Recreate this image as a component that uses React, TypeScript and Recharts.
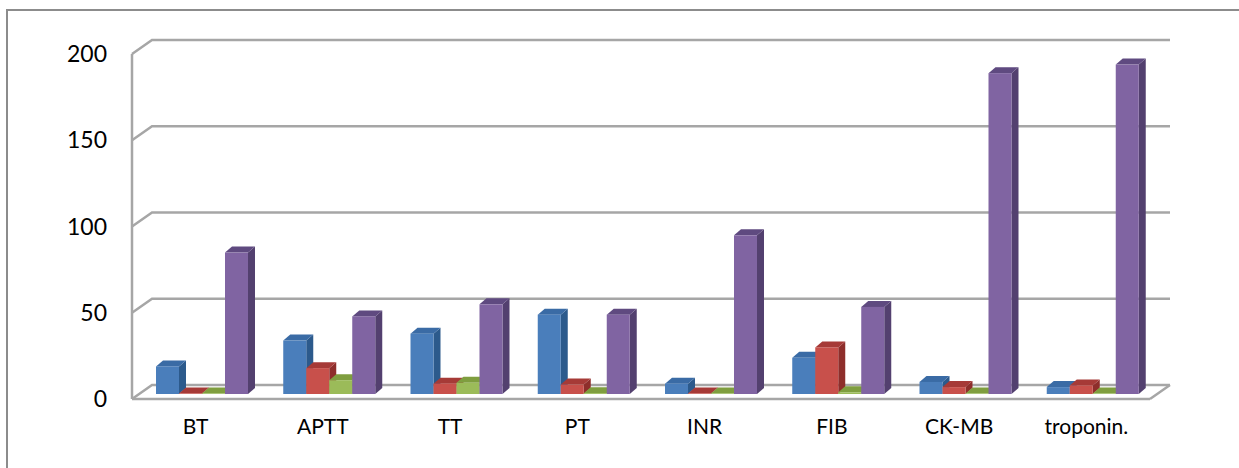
import { Bar, BarChart, CartesianGrid, XAxis, YAxis } from "recharts";

const categories = ["BT", "APTT", "TT", "PT", "INR", "FIB", "CK-MB", "troponin."];
const blueValues = [16, 31, 35, 46, 6, 21, 7, 4];
const redValues = [0.3, 15, 6, 5.5, 0.3, 27, 4, 5];
const greenValues = [0.3, 8, 6.5, 0.5, 0.3, 1, 0.3, 0.3];
const purpleValues = [82, 45, 52, 46, 92, 50.5, 186, 191];
const yTicks = [0, 50, 100, 150, 200];

const data = categories.map((name, i) => ({
  name,
  blue: blueValues[i],
  red: redValues[i],
  green: greenValues[i],
  purple: purpleValues[i],
}));

const FONT = "Lato, sans-serif";
const GRID = "#a6a6a6";
const WALL_DX = 20;
const WALL_DY = 14;

// bars stand in the middle of the floor, not on its front edge
const BAR_DX = 7;
const BAR_DY = 5;
const DEPTH_X = 7;
const DEPTH_Y = 6;

// front colour, top face, side face
const faces = (top: string, side: string) => (props: any) => {
  const { x, y, width, height, fill } = props;
  const l = x + BAR_DX;
  const r = l + width;
  const t = y - BAR_DY;
  const b = t + height;
  return (
    <g>
      <polygon
        points={`${r},${t} ${r + DEPTH_X},${t - DEPTH_Y} ${r + DEPTH_X},${b - DEPTH_Y} ${r},${b}`}
        fill={side}
      />
      <polygon
        points={`${l},${t} ${l + DEPTH_X},${t - DEPTH_Y} ${r + DEPTH_X},${t - DEPTH_Y} ${r},${t}`}
        fill={top}
      />
      <rect x={l} y={t} width={width} height={height} fill={fill} />
    </g>
  );
};

// each grid line runs up the side wall and along the back wall
const wallLine = (props: any) => {
  const { x1, x2, y1, index } = props;
  const isFloor = Math.round(y1) >= 398;
  return (
    <g key={index}>
      <polyline
        points={`${x1},${y1} ${x1 + WALL_DX},${y1 - WALL_DY} ${x2 + WALL_DX},${y1 - WALL_DY}`}
        fill="none"
        stroke={GRID}
        strokeWidth={2.5}
      />
      {isFloor && (
        <line x1={x2} y1={y1} x2={x2 + WALL_DX} y2={y1 - WALL_DY} stroke={GRID} strokeWidth={2.5} />
      )}
    </g>
  );
};

export default function App() {
  return (
    <div style={{ position: "absolute", left: 0, top: 0, width: 1239, height: 468, background: "#fff" }}>
      <div
        style={{
          position: "absolute",
          left: 6,
          top: 9,
          width: 1233,
          height: 459,
          borderLeft: "2px solid #8c8c8c",
          borderTop: "2px solid #8c8c8c",
          boxSizing: "border-box",
        }}
      />
      <div style={{ position: "absolute", left: 0, top: 0 }}>
        <BarChart
          width={1239}
          height={468}
          data={data}
          margin={{ top: 54, right: 89, bottom: 0, left: 0 }}
          barGap={0}
          barCategoryGap={17}
        >
          <CartesianGrid vertical={false} horizontal={wallLine} />
          <XAxis
            dataKey="name"
            height={69}
            axisLine={{ stroke: GRID, strokeWidth: 2.5 }}
            tickLine={false}
            tickSize={0}
            tickMargin={20}
            interval={0}
            tick={{ fontFamily: FONT, fontSize: 21, fill: "#000" }}
          />
          <YAxis
            width={132}
            domain={[0, 200]}
            ticks={yTicks}
            axisLine={{ stroke: GRID, strokeWidth: 2.5 }}
            tickLine={false}
            tickSize={0}
            tickMargin={25}
            tick={{ fontFamily: FONT, fontSize: 23, fill: "#000" }}
          />
          <Bar dataKey="blue" fill="#4a7ebb" isAnimationActive={false} shape={faces("#3a6ba5", "#2c5a8c")} />
          <Bar dataKey="red" fill="#c8504b" isAnimationActive={false} shape={faces("#a63a37", "#8e2e2b")} />
          <Bar dataKey="green" fill="#9bbb59" isAnimationActive={false} shape={faces("#7f9e3f", "#6f8c36")} />
          <Bar dataKey="purple" fill="#8064a2" isAnimationActive={false} shape={faces("#5f4a80", "#53406f")} />
        </BarChart>
      </div>
    </div>
  );
}
